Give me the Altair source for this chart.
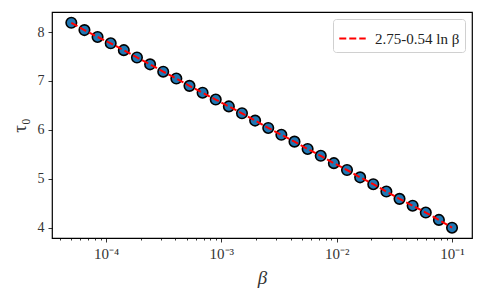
import altair as alt
import pandas as pd

beta = [5.0e-5, 6.4983e-5, 8.4456e-5, 1.09764e-4, 1.42656e-4, 1.85404e-4,
        2.40963e-4, 3.13170e-4, 4.07016e-4, 5.28984e-4, 6.87501e-4, 8.93520e-4,
        1.16127e-3, 1.50926e-3, 1.96153e-3, 2.54932e-3, 3.31326e-3, 4.30612e-3,
        5.59650e-3, 7.27356e-3, 9.45317e-3, 1.22859e-2, 1.59675e-2, 2.07524e-2,
        2.69711e-2, 3.50533e-2, 4.55573e-2, 5.92090e-2, 7.69517e-2, 0.1]
tau = [8.19, 8.04, 7.90, 7.77, 7.63, 7.48, 7.34, 7.19, 7.05, 6.90,
       6.76, 6.62, 6.48, 6.34, 6.19, 6.04, 5.90, 5.76, 5.61, 5.47,
       5.32, 5.18, 5.03, 4.89, 4.74, 4.59, 4.45, 4.31, 4.16, 4.00]
fit_label = "2.75-0.54 ln β"

major_ticks = [1e-4, 1e-3, 1e-2, 1e-1]
minor_ticks = [4e-5, 5e-5, 6e-5, 7e-5, 8e-5, 9e-5,
               2e-4, 3e-4, 4e-4, 5e-4, 6e-4, 7e-4, 8e-4, 9e-4,
               2e-3, 3e-3, 4e-3, 5e-3, 6e-3, 7e-3, 8e-3, 9e-3,
               2e-2, 3e-2, 4e-2, 5e-2, 6e-2, 7e-2, 8e-2, 9e-2]
y_ticks = [4, 5, 6, 7, 8]

df = pd.DataFrame({"beta": beta, "tau": tau, "series": [fit_label] * len(beta)})

FONT = "Liberation Serif"
xscale = alt.Scale(type="log", domain=[3.4e-5, 0.149], nice=False)
yscale = alt.Scale(domain=[3.79, 8.41], nice=False, zero=False)

label_expr = ("'10' + (datum.value < 0.0005 ? '⁻⁴' : datum.value < 0.005 ? '⁻³' : "
              "datum.value < 0.05 ? '⁻²' : '⁻¹')")

yaxis = alt.Axis(values=y_ticks, title="τ₀", titleFont=FONT,
                 titleFontSize=19, titleFontWeight="normal", titleColor="#333",
                 titlePadding=8, labelFont=FONT, labelFontSize=14,
                 labelColor="#333", labelPadding=4, grid=False, domain=False,
                 tickSize=4, tickColor="black", tickWidth=0.8)

points = alt.Chart(df).mark_point(filled=True, size=110, fill="#1f77b4",
                                   stroke="black", strokeWidth=1.6, opacity=1).encode(
    x=alt.X("beta:Q", scale=xscale,
            axis=alt.Axis(values=major_ticks, labelExpr=label_expr, title="β",
                          titleFont=FONT, titleFontSize=19, titleFontWeight="normal",
                          titleFontStyle="italic", titleColor="#333", titlePadding=7,
                          labelFont=FONT, labelFontSize=15, labelColor="#333",
                          labelPadding=4, grid=False, domain=False, tickSize=4,
                          tickColor="black", tickWidth=0.8, orient="bottom")),
    y=alt.Y("tau:Q", scale=yscale, axis=yaxis),
)

line = alt.Chart(df).mark_line(strokeDash=[7, 3], strokeWidth=2).encode(
    x=alt.X("beta:Q", scale=xscale,
            axis=alt.Axis(values=minor_ticks, labels=False, title=None, domain=False,
                          grid=False, tickSize=2, tickColor="black", tickWidth=0.8,
                          orient="bottom")),
    y=alt.Y("tau:Q", scale=yscale, axis=yaxis),
    color=alt.Color("series:N",
                    scale=alt.Scale(domain=[fit_label], range=["#ff0000"]),
                    legend=alt.Legend(title=None, orient="top-right", offset=7,
                                      symbolType="stroke", symbolDash=[7, 3],
                                      symbolStrokeWidth=2, symbolSize=700,
                                      labelFont=FONT, labelFontSize=15,
                                      labelColor="#222", fillColor="white",
                                      strokeColor="#d0d0d0", cornerRadius=3,
                                      padding=5, labelOffset=8)),
)

chart = alt.layer(points, line).resolve_axis(x="independent").resolve_scale(
    x="shared", y="shared"
).properties(
    width=420, height=226,
    autosize=alt.AutoSizeParams(type="none"),
    padding={"left": 44, "top": 4, "right": 4, "bottom": 54},
).configure(background="white").configure_view(stroke="black", strokeWidth=1.2)

chart.save("out.html", embed_options={"renderer": "svg", "actions": False})
